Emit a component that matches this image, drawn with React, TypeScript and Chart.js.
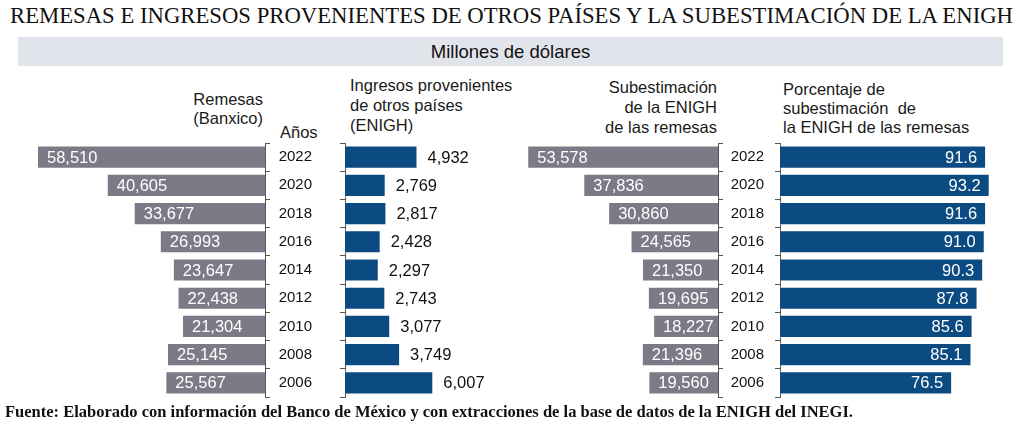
import React, { useEffect, useLayoutEffect, useRef } from "react";
import { Chart, registerables } from "chart.js";

Chart.register(...registerables);

const years = ["2022", "2020", "2018", "2016", "2014", "2012", "2010", "2008", "2006"];
const remesasBanxico = [58510, 40605, 33677, 26993, 23647, 22438, 21304, 25145, 25567];
const ingresosEnigh = [4932, 2769, 2817, 2428, 2297, 2743, 3077, 3749, 6007];
const subestimacion = [53578, 37836, 30860, 24565, 21350, 19695, 18227, 21396, 19560];
const porcentaje = [91.6, 93.2, 91.6, 91.0, 90.3, 87.8, 85.6, 85.1, 76.5];

const SANS = '"Liberation Sans", Arial, sans-serif';
const SERIF = '"Liberation Serif", "Times New Roman", serif';
const GREY = "#7b7a87";
const BLUE = "#0c4a82";
const AXIS = "#555555";

type Mode = "insideStart" | "outside" | "insideEnd";

interface PanelProps {
  values: number[];
  left: number;
  width: number;
  max: number;
  reverse: boolean;
  color: string;
  axisSide: "left" | "right";
  axisWidth: number;
  tickPadding: number;
  showYears: boolean;
  mode: Mode;
  decimals: number;
  textColor: string;
}

const TOP = 138;
const HEIGHT = 264;

function fmt(v: number, decimals: number) {
  return v.toLocaleString("en-US", { minimumFractionDigits: decimals, maximumFractionDigits: decimals });
}

function BarPanel(p: PanelProps) {
  const ref = useRef<HTMLCanvasElement>(null);
  useEffect(() => {
    if (!ref.current) return;
    const labelPlugin = {
      id: "valueLabels",
      afterDatasetsDraw(chart: any) {
        const ctx = chart.ctx;
        const meta = chart.getDatasetMeta(0);
        ctx.save();
        ctx.font = `16.5px ${SANS}`;
        ctx.fillStyle = p.textColor;
        ctx.textBaseline = "middle";
        meta.data.forEach((bar: any, i: number) => {
          const text = fmt(p.values[i], p.decimals);
          let x = bar.x;
          if (p.mode === "insideStart") {
            ctx.textAlign = "left";
            x = bar.x + 10;
          } else if (p.mode === "outside") {
            ctx.textAlign = "left";
            x = bar.x + 10;
          } else {
            ctx.textAlign = "right";
            x = bar.x - 9;
          }
          ctx.fillText(text, x, bar.y + 1);
        });
        ctx.restore();
      },
    };
    const chart = new Chart(ref.current, {
      type: "bar",
      data: {
        labels: years,
        datasets: [
          {
            data: p.values,
            backgroundColor: p.color,
            borderColor: "rgba(255,255,255,0.45)",
            borderWidth: 1,
            categoryPercentage: 1,
            barPercentage: 0.82,
          },
        ],
      },
      options: {
        indexAxis: "y",
        animation: false,
        responsive: false,
        devicePixelRatio: 1,
        layout: { padding: { top: 5, bottom: 5, left: 0, right: p.axisSide === "left" ? 5 : 0 } },
        plugins: { legend: { display: false }, tooltip: { enabled: false }, title: { display: false } },
        scales: {
          x: { display: false, min: 0, max: p.max, reverse: p.reverse },
          y: {
            position: p.axisSide,
            grid: { drawOnChartArea: false, drawTicks: true, tickLength: 5, color: AXIS, lineWidth: 1, offset: true },
            border: { display: true, color: AXIS, width: 1 },
            ticks: {
              display: p.showYears,
              crossAlign: "center",
              padding: p.tickPadding,
              color: "#111111",
              font: { family: SANS, size: 15 },
            },
            afterFit: (s: any) => {
              s.width = p.axisWidth;
              s.paddingTop = 0;
              s.paddingBottom = 0;
            },
          },
        },
      },
      plugins: [labelPlugin],
    } as any);
    return () => chart.destroy();
  }, []);
  return (
    <canvas
      ref={ref}
      width={p.width}
      height={HEIGHT}
      style={{ position: "absolute", left: p.left, top: TOP, width: p.width, height: HEIGHT }}
    />
  );
}

function FitText(props: { text: string; left: number; top: number; width: number; style: React.CSSProperties }) {
  const ref = useRef<HTMLSpanElement>(null);
  useLayoutEffect(() => {
    const el = ref.current;
    if (!el) return;
    el.style.transform = "none";
    const w = el.getBoundingClientRect().width;
    if (w > 0) el.style.transform = `scaleX(${props.width / w})`;
  }, [props.text, props.width]);
  return (
    <span
      ref={ref}
      style={{
        position: "absolute",
        left: props.left,
        top: props.top,
        whiteSpace: "pre",
        display: "inline-block",
        transformOrigin: "0 0",
        ...props.style,
      }}
    >
      {props.text}
    </span>
  );
}

const headerStyle: React.CSSProperties = {
  position: "absolute",
  fontFamily: SANS,
  fontSize: 16.5,
  color: "#1a1a1a",
  whiteSpace: "pre",
};

export default function App() {
  return (
    <div
      style={{
        position: "absolute",
        left: 0,
        top: 0,
        width: 1024,
        height: 425,
        overflow: "hidden",
        background: "#ffffff",
      }}
    >
      <FitText
        text="REMESAS E INGRESOS PROVENIENTES DE OTROS PAÍSES Y LA SUBESTIMACIÓN DE LA ENIGH"
        left={10}
        top={1}
        width={1003}
        style={{ fontFamily: SERIF, fontSize: 24, lineHeight: "28px", color: "#111" }}
      />
      <div
        style={{
          position: "absolute",
          left: 18,
          top: 37,
          width: 985,
          height: 29,
          background: "#e2e4eb",
          fontFamily: SANS,
          fontSize: 18.5,
          lineHeight: "29px",
          textAlign: "center",
          color: "#111",
        }}
      >
        Millones de dólares
      </div>

      <div style={{ ...headerStyle, right: 1024 - 263, top: 90, lineHeight: "19px", textAlign: "right" }}>
        {"Remesas\n(Banxico)"}
      </div>
      <div style={{ ...headerStyle, left: 280, top: 122, lineHeight: "20px" }}>Años</div>
      <div style={{ ...headerStyle, left: 350, top: 75, lineHeight: "20px" }}>
        {"Ingresos provenientes\nde otros países\n(ENIGH)"}
      </div>
      <div style={{ ...headerStyle, right: 1024 - 717, top: 77, lineHeight: "20px", textAlign: "right" }}>
        {"Subestimación\nde la ENIGH\nde las remesas"}
      </div>
      <div style={{ ...headerStyle, left: 783, top: 80, lineHeight: "19px" }}>
        {"Porcentaje de\nsubestimación  de\nla ENIGH de las remesas"}
      </div>

      <BarPanel
        values={remesasBanxico}
        left={0}
        width={271}
        max={68000}
        reverse={true}
        color={GREY}
        axisSide="right"
        axisWidth={6}
        tickPadding={0}
        showYears={false}
        mode="insideStart"
        decimals={0}
        textColor="#ffffff"
      />
      <BarPanel
        values={ingresosEnigh}
        left={265}
        width={255}
        max={11565}
        reverse={false}
        color={BLUE}
        axisSide="left"
        axisWidth={80}
        tickPadding={28}
        showYears={true}
        mode="outside"
        decimals={0}
        textColor="#111111"
      />
      <BarPanel
        values={subestimacion}
        left={514}
        width={210}
        max={57300}
        reverse={true}
        color={GREY}
        axisSide="right"
        axisWidth={6}
        tickPadding={0}
        showYears={false}
        mode="insideStart"
        decimals={0}
        textColor="#ffffff"
      />
      <BarPanel
        values={porcentaje}
        left={718}
        width={292}
        max={100}
        reverse={false}
        color={BLUE}
        axisSide="left"
        axisWidth={62}
        tickPadding={11}
        showYears={true}
        mode="insideEnd"
        decimals={1}
        textColor="#ffffff"
      />

      <FitText
        text="Fuente: Elaborado con información del Banco de México y con extracciones de la base de datos de la ENIGH del INEGI."
        left={5}
        top={401}
        width={848}
        style={{ fontFamily: SERIF, fontSize: 17, fontWeight: "bold", lineHeight: "22px", color: "#111" }}
      />
    </div>
  );
}
